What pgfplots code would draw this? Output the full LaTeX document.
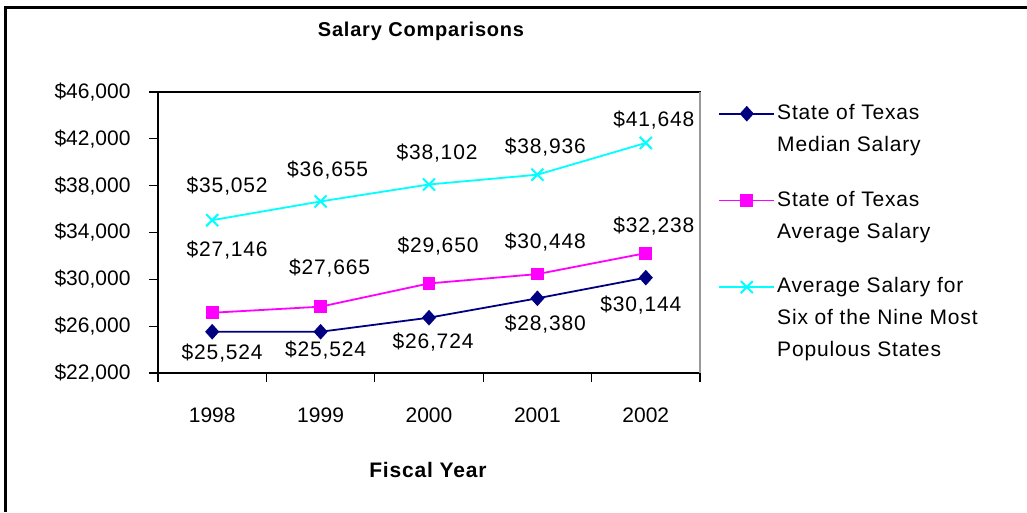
\documentclass[border=0pt]{standalone}
\usepackage{fontspec}
\setmainfont{Liberation Sans}
\newfontfamily\titlefont[LetterSpace=4]{Liberation Sans}
\newfontfamily\spacedfont[LetterSpace=4]{Liberation Sans}
\usepackage{pgfplots}
\pgfplotsset{compat=1.18}
\usepackage{pgfplotstable}

\definecolor{navy}{RGB}{0,0,128}
\definecolor{magentax}{RGB}{255,0,255}
\definecolor{cyanx}{RGB}{0,255,255}

\pgfplotsset{
  legshift/.style={legend image code/.code={\draw[mark repeat=2,mark phase=2,##1] plot coordinates {(0pt,#1) (27.5pt,#1) (55pt,#1)};}},
}

\pgfplotstableread{
x y dx dy
0 25524 10 -21
1 25524 5 -18
2 26724 4 -24
3 28380 8 -26
4 30144 -5 -27
}\median

\pgfplotstableread{
x y dx dy
0 27146 15 63
1 27665 9 39
2 29650 9 37
3 30448 8 32
4 32238 8 27
}\average

\pgfplotstableread{
x y dx dy
0 35052 15 34
1 36655 7 31
2 38102 8 31
3 38936 8 28
4 41648 8 23
}\six

\begin{document}
\begin{tikzpicture}[x=1pt,y=1pt]
\useasboundingbox (0,0) rectangle (1027,512);
\fill[white] (0,0) rectangle (1027,512);
\draw[line width=2.5pt] (5.5,0) -- (5.5,504.5) -- (1027,504.5);
\begin{axis}[
  at={(158pt,139pt)}, anchor=south west,
  scale only axis, width=542pt, height=281pt,
  clip=false,
  xmin=-0.5, xmax=4.5, ymin=22000, ymax=46000,
  ytick={22000,26000,...,46000},
  xtick={0,...,4}, xticklabels={1998,1999,2000,2001,2002},
  minor xtick={-0.5,0.5,...,4.5},
  major x tick style={draw=none},
  tick align=outside, major tick length=9pt, minor tick length=9pt,
  xtick pos=bottom, ytick pos=left,
  tick style={black, line width=1.2pt},
  axis line style={line width=1.5pt},
  scaled ticks=false,
  yticklabel={\$\pgfmathprintnumber[assume math mode=true,fixed,precision=0,1000 sep={,}]{\tick}},
  ticklabel style={font=\fontsize{21}{25}\selectfont},
  yticklabel style={xshift=-15pt},
  xticklabel style={anchor=center, yshift=-33pt},
  xlabel={Fiscal Year},
  xlabel style={font=\titlefont\bfseries\fontsize{21}{25}\selectfont, at={(axis description cs:0.498,-0.345)}, anchor=center},
  nodes near coords={\$\pgfmathprintnumber[assume math mode=true,fixed,precision=0,1000 sep={,}]{\pgfplotspointmeta}},
  point meta=y,
  visualization depends on={\thisrow{dx}\as\dx},
  visualization depends on={\thisrow{dy}\as\dy},
  nodes near coords style={anchor=center, xshift=\dx pt, yshift=\dy pt, font=\spacedfont\fontsize{21}{25}\selectfont, text=black},
  legend style={at={(rel axis cs:1.028,0.971)}, anchor=north west, draw=none, fill=none,
    font=\spacedfont\fontsize{21}{32}\selectfont, row sep=34pt,
    nodes={align=left}},
  legend cell align=left,
]
\addplot[navy, line width=1.8pt, mark=diamond*, mark size=6.5pt, mark options={xscale=1.2, fill=navy, draw=navy}, legshift=15pt] table[x=x,y=y] {\median};
\addlegendentry{State of Texas\\Median Salary}
\addplot[magentax, line width=1.8pt, mark=square*, mark size=5.5pt, mark options={fill=magentax, draw=magentax}, legshift=15pt] table[x=x,y=y] {\average};
\addlegendentry{State of Texas\\Average Salary}
\addplot[cyanx, line width=1.8pt, mark=x, mark size=8.5pt, mark options={line width=2pt}, legshift=31pt] table[x=x,y=y] {\six};
\addlegendentry{Average Salary for\\Six of the Nine Most\\Populous States}
\draw[gray!80, line width=1.5pt] (rel axis cs:1,0) -- (rel axis cs:1,1);
\end{axis}
\node[font=\titlefont\bfseries\fontsize{20}{24}\selectfont] at (421,481) {Salary Comparisons};
\end{tikzpicture}
\end{document}
